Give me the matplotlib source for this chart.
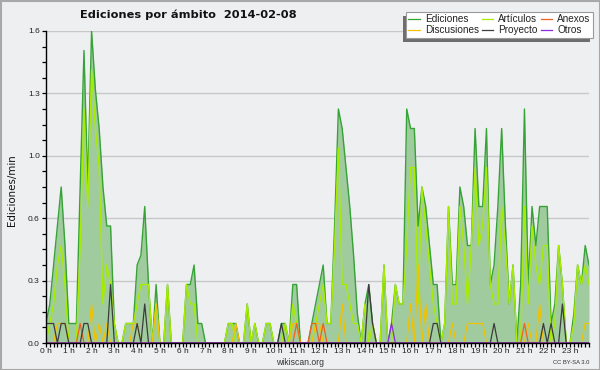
import matplotlib
matplotlib.use('Agg')
import matplotlib.pyplot as plt
import numpy as np
from matplotlib.patches import Rectangle
from matplotlib.lines import Line2D
from matplotlib.ticker import FixedLocator, MultipleLocator
from matplotlib.transforms import IdentityTransform

# ---------------- data (edits/min, one value per 10 minutes) ----------------
hour_labels = ["0 h", "1 h", "2 h", "3 h", "4 h", "5 h", "6 h", "7 h", "8 h", "9 h",
               "10 h", "11 h", "12 h", "13 h", "14 h", "15 h", "16 h", "17 h", "18 h",
               "19 h", "20 h", "21 h", "22 h", "23 h"]
ytick_values = [0.0, 0.32, 0.64, 0.96, 1.28, 1.6]
ytick_labels = ["0.0", "0.3", "0.6", "1.0", "1.3", "1.6"]

ediciones = [
    0.1, 0.2, 0.4, 0.6, 0.8, 0.5, 0.1, 0.1, 0.1, 0.8, 1.5, 0.8,
    1.6, 1.3, 1.1, 0.8, 0.6, 0.6, 0.1, 0, 0, 0.1, 0.1, 0.1,
    0.4, 0.45, 0.7, 0.3, 0, 0.3, 0, 0, 0.3, 0, 0, 0,
    0, 0.3, 0.3, 0.4, 0.1, 0.1, 0, 0, 0, 0, 0, 0,
    0.1, 0.1, 0.1, 0, 0, 0.2, 0, 0.1, 0, 0, 0.1, 0.1,
    0, 0, 0.1, 0.1, 0, 0.3, 0.3, 0, 0, 0, 0.1, 0.2,
    0.3, 0.4, 0.1, 0.1, 0.6, 1.2, 1.1, 0.9, 0.7, 0.45, 0.15, 0,
    0.2, 0.3, 0.1, 0, 0, 0.4, 0, 0.1, 0.3, 0.2, 0.2, 1.2,
    1.1, 1.1, 0.6, 0.8, 0.7, 0.5, 0.3, 0.3, 0, 0.1, 0.7, 0.3,
    0.3, 0.8, 0.7, 0.5, 0.5, 1.1, 0.7, 0.7, 1.1, 0.3, 0.4, 0.7,
    1.1, 0.6, 0.2, 0.4, 0, 0.3, 1.2, 0.3, 0.7, 0.5, 0.7, 0.7,
    0.7, 0.1, 0.2, 0.5, 0.3, 0, 0, 0.15, 0.4, 0.3, 0.5, 0.4,
]
articulos = [
    0, 0.1, 0.2, 0.4, 0.5, 0.3, 0, 0, 0, 0.5, 1.2, 0.7,
    1.4, 1.1, 0.9, 0.2, 0.4, 0.3, 0.1, 0, 0, 0.1, 0.1, 0.1,
    0.2, 0.3, 0.3, 0.3, 0, 0.2, 0, 0, 0.3, 0, 0, 0,
    0, 0.3, 0.2, 0.2, 0, 0, 0, 0, 0, 0, 0, 0,
    0.1, 0.1, 0, 0, 0, 0.2, 0, 0.1, 0, 0, 0.1, 0.1,
    0, 0, 0, 0.1, 0, 0.2, 0.1, 0, 0, 0, 0, 0.1,
    0.2, 0.3, 0.1, 0.1, 0.5, 1.0, 0.3, 0.3, 0.2, 0.1, 0.1, 0,
    0.2, 0, 0.1, 0, 0, 0.4, 0, 0, 0.3, 0.2, 0.2, 0.5,
    0.9, 0.9, 0.2, 0.8, 0.6, 0.4, 0.2, 0.1, 0, 0.1, 0.7, 0.2,
    0.2, 0.7, 0.5, 0.2, 0.5, 0.9, 0.5, 0.6, 0.9, 0.3, 0.2, 0.2,
    0.7, 0.5, 0.2, 0.4, 0, 0, 0.7, 0.2, 0.6, 0.4, 0.3, 0.5,
    0.5, 0, 0.1, 0.5, 0.3, 0, 0, 0.1, 0.4, 0.3, 0.4, 0.3,
]
discusiones = [
    0, 0, 0, 0.1, 0.1, 0.1, 0, 0, 0, 0, 0, 0,
    0.2, 0, 0.1, 0, 0.1, 0, 0, 0, 0, 0, 0, 0.1,
    0.1, 0, 0, 0, 0, 0.2, 0, 0, 0, 0, 0, 0,
    0, 0, 0, 0, 0, 0, 0, 0, 0, 0, 0, 0,
    0, 0, 0.1, 0, 0, 0, 0, 0, 0, 0, 0, 0,
    0, 0, 0, 0, 0, 0.1, 0.1, 0, 0, 0, 0, 0.1,
    0.1, 0, 0, 0, 0, 0, 0.2, 0, 0, 0, 0, 0,
    0, 0, 0, 0, 0, 0, 0, 0, 0, 0, 0, 0,
    0.2, 0, 0.4, 0, 0.2, 0, 0, 0, 0, 0, 0, 0.1,
    0, 0, 0, 0.1, 0.1, 0.1, 0.1, 0.1, 0, 0, 0, 0,
    0, 0, 0, 0, 0, 0, 0, 0.1, 0, 0, 0.2, 0,
    0, 0, 0, 0, 0, 0, 0, 0, 0, 0, 0.1, 0.1,
]
anexos = [
    0, 0, 0, 0, 0, 0, 0, 0, 0, 0.1, 0, 0,
    0, 0, 0, 0, 0, 0, 0, 0, 0, 0, 0, 0,
    0, 0, 0, 0, 0, 0, 0, 0, 0, 0, 0, 0,
    0, 0, 0, 0, 0, 0, 0, 0, 0, 0, 0, 0,
    0, 0, 0, 0, 0, 0, 0, 0, 0, 0, 0, 0,
    0, 0, 0, 0, 0, 0, 0.1, 0, 0, 0, 0.1, 0.1,
    0, 0.1, 0, 0, 0, 0, 0, 0, 0, 0, 0, 0,
    0, 0, 0, 0, 0, 0, 0, 0, 0, 0, 0, 0,
    0, 0, 0, 0, 0, 0, 0, 0, 0, 0, 0, 0,
    0, 0, 0, 0, 0, 0, 0, 0, 0, 0, 0, 0,
    0, 0, 0, 0, 0, 0, 0.1, 0, 0, 0, 0, 0,
    0, 0, 0, 0, 0, 0, 0, 0, 0, 0, 0, 0,
]
proyecto = [
    0.1, 0.1, 0.1, 0, 0.1, 0.1, 0, 0, 0, 0, 0.1, 0.1,
    0, 0, 0, 0, 0, 0.3, 0, 0, 0, 0, 0, 0,
    0.1, 0, 0.2, 0, 0, 0, 0, 0, 0, 0, 0, 0,
    0, 0, 0, 0, 0, 0, 0, 0, 0, 0, 0, 0,
    0, 0, 0, 0, 0, 0, 0, 0, 0, 0, 0, 0,
    0, 0, 0.1, 0, 0, 0, 0, 0, 0, 0, 0, 0,
    0, 0, 0, 0, 0, 0, 0, 0, 0, 0, 0, 0,
    0, 0.3, 0.1, 0, 0, 0, 0, 0, 0, 0, 0, 0,
    0, 0, 0, 0, 0, 0, 0.1, 0.1, 0, 0, 0, 0,
    0, 0, 0, 0, 0, 0, 0, 0, 0, 0, 0.1, 0,
    0, 0, 0, 0, 0, 0, 0, 0, 0, 0, 0, 0.1,
    0, 0.1, 0, 0, 0.2, 0, 0, 0, 0, 0, 0, 0,
]
otros = [
    0, 0, 0, 0, 0, 0, 0, 0, 0, 0, 0, 0,
    0, 0, 0, 0, 0, 0, 0, 0, 0, 0, 0, 0,
    0, 0, 0, 0, 0, 0, 0, 0, 0, 0, 0, 0,
    0, 0, 0, 0, 0, 0, 0, 0, 0, 0, 0, 0,
    0, 0, 0, 0, 0, 0, 0, 0, 0, 0, 0, 0,
    0, 0, 0, 0, 0, 0, 0, 0, 0, 0, 0, 0,
    0, 0, 0, 0, 0, 0, 0, 0, 0, 0, 0, 0,
    0, 0, 0, 0, 0, 0, 0, 0.1, 0, 0, 0, 0,
    0, 0, 0, 0, 0, 0, 0, 0, 0, 0, 0, 0,
    0, 0, 0, 0, 0, 0, 0, 0, 0, 0, 0, 0,
    0, 0, 0, 0, 0, 0, 0, 0, 0, 0, 0, 0,
    0, 0, 0, 0, 0, 0, 0, 0, 0, 0, 0, 0,
]

# ---------------- styling ----------------
BG = '#eeeff1'
C_ED_LINE = '#36a336'
C_ED_FILL = '#9fcb9f'
C_ART = '#a8ec00'
C_DIS = '#f2c200'
C_ANX = '#f06020'
C_PRO = '#3c3c3c'
C_OTR = '#8a2be2'

W, H = 600, 370
fig = plt.figure(figsize=(W / 100, H / 100), dpi=100, facecolor=BG)

x = np.arange(len(ediciones)) / 6.0  # hours

ax_left, ax_right, ax_top, ax_bottom = 46, 589, 31, 343
ax = fig.add_axes([ax_left / W, (H - ax_bottom) / H,
                   (ax_right - ax_left) / W, (ax_bottom - ax_top) / H])
ax.set_facecolor('none')
ax.set_xlim(0, x[-1])
ax.set_ylim(0, 1.6)

ax.fill_between(x, 0, ediciones, color=C_ED_FILL, lw=0, zorder=1)
ax.plot(x, ediciones, color=C_ED_LINE, lw=1.0, zorder=2)
ax.plot(x, articulos, color=C_ART, lw=1.0, zorder=3)
ax.plot(x, discusiones, color=C_DIS, lw=0.9, zorder=4)
ax.plot(x, anexos, color=C_ANX, lw=0.9, zorder=5)
ax.plot(x, proyecto, color=C_PRO, lw=0.9, zorder=6)
ax.plot(x, otros, color=C_OTR, lw=0.9, zorder=7)

# grid / spines
ax.yaxis.set_major_locator(FixedLocator(ytick_values))
ax.set_yticklabels(ytick_labels)
ax.yaxis.set_minor_locator(MultipleLocator(0.08))
ax.yaxis.grid(True, color='#c8c8c8', lw=1.0, zorder=0)
ax.set_axisbelow(True)
for s in ['top', 'right']:
    ax.spines[s].set_visible(False)
for s in ['left', 'bottom']:
    ax.spines[s].set_color('black')
    ax.spines[s].set_linewidth(1.0)
    ax.spines[s].set_zorder(10)

ax.xaxis.set_major_locator(FixedLocator(list(range(24))))
ax.set_xticklabels(hour_labels)
ax.xaxis.set_minor_locator(MultipleLocator(1 / 6))

ax.tick_params(axis='both', which='both', direction='out', color='black',
               width=0.9, labelsize=6.0, labelcolor='#222222')
ax.tick_params(axis='x', which='both', length=3, pad=0.6)
ax.tick_params(axis='y', which='both', length=3, pad=1.5)
for lab in ax.get_xticklabels() + ax.get_yticklabels():
    lab.set_fontfamily('Liberation Sans')

# texts
fig.text(188.5 / W, 1 - 14.5 / H, 'Ediciones por ámbito  2014-02-08',
         ha='center', va='center', fontsize=8.2, fontweight='bold',
         family='DejaVu Sans', color='#111111')
fig.text(12 / W, 1 - 190 / H, 'Ediciones/min', rotation=90,
         ha='center', va='center', fontsize=7.4, family='DejaVu Sans',
         color='#111111')
fig.text(300.5 / W, 1 - 362.5 / H, 'wikiscan.org', ha='center', va='center',
         fontsize=6.2, family='Liberation Sans', color='#333333')
fig.text(589 / W, 1 - 363 / H, 'CC BY-SA 3.0', ha='right', va='center',
         fontsize=4.2, family='Liberation Sans', color='#333333')

# legend (column-major order for 3 columns)
names = ['Ediciones', 'Discusiones', 'Artículos', 'Proyecto', 'Anexos', 'Otros']
cols = [C_ED_LINE, C_DIS, C_ART, C_PRO, C_ANX, C_OTR]
handles = [Line2D([0], [0], color=c, lw=0.9) for c in cols]
leg = fig.legend(handles, names, ncol=3, loc='upper right',
                 bbox_to_anchor=(593 / W, 1 - 12 / H), borderaxespad=0,
                 prop=dict(family='Liberation Sans', size=7.2),
                 handlelength=1.15, handletextpad=0.5, columnspacing=0.3,
                 labelspacing=0.05, borderpad=0.25, fancybox=False,
                 framealpha=1.0, facecolor='white', edgecolor='#9a9a9a')
leg.get_frame().set_linewidth(0.8)
leg.set_zorder(20)
for t in leg.get_texts():
    t.set_color('#222222')

fig.canvas.draw()
bb = leg.get_window_extent()
shadow = Rectangle((bb.x0 - 3, bb.y0 - 4), bb.width, bb.height,
                   transform=IdentityTransform(), facecolor='#6e6e6e',
                   edgecolor='none', zorder=19)
fig.add_artist(shadow)

# figure frame
frame = Rectangle((0.5, 0.5), W - 1, H - 1, transform=IdentityTransform(),
                  facecolor='none', edgecolor='#a8a8a8', lw=1.5, zorder=30)
fig.add_artist(frame)

fig.savefig('out.png', dpi=100, facecolor=BG)
